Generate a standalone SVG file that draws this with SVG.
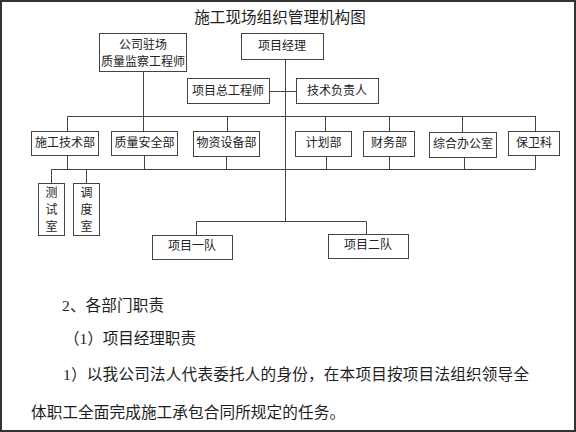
<svg xmlns="http://www.w3.org/2000/svg" width="576" height="432" viewBox="0 0 576 432">
<style>
.box{fill:#fff;stroke:#444;stroke-width:1}
.lbl{font-family:"Noto Sans CJK SC","Noto Sans CJK JP",sans-serif;font-size:12px;fill:#222;text-anchor:middle;dominant-baseline:central}
.con{stroke:#444;stroke-width:1;fill:none}
.body{font-family:"Liberation Serif","Noto Sans CJK SC",serif;font-size:15.6px;fill:#1e1e1e;dominant-baseline:central}
</style>
<rect x="0" y="0" width="576" height="432" fill="#fff"/>
<rect x="1" y="1" width="574" height="430" fill="none" stroke="#333" stroke-width="2"/>
<text class="body" x="280" y="17" text-anchor="middle" fill="#333">施工现场组织管理机构图</text>

<g id="connectors">
<path class="con" d="M143.5,71 V116.5 M285.5,59 V221.5 M269,91.5 H296 M67.5,116.5 H536"/>
<path class="con" d="M67.5,116.5 V131 M143.5,116.5 V131 M227.5,116.5 V131.5 M325.5,116.5 V131 M389.5,116.5 V131 M462.5,116.5 V132 M535.5,116.5 V131"/>
<path class="con" d="M67.5,155 V169.5 M144.5,155 V169.5 M226.5,156 V169.5 M326.5,156 V169.5 M389.5,156 V169.5 M464.5,157 V169.5 M535.5,155 V169.5 M51.5,169.5 H535.5"/>
<path class="con" d="M51.5,169.5 V183 M86.5,169.5 V183"/>
<path class="con" d="M196.5,221.5 H366.5 M196.5,221.5 V235 M366.5,221.5 V234"/>
</g>

<g id="node-jiancha">
<rect class="box" x="99.5" y="33.5" width="87" height="38"/>
<text class="lbl" x="143" y="43">公司驻场</text>
<text class="lbl" x="143" y="60">质量监察工程师</text>
</g>
<g id="node-xmjl">
<rect class="box" x="241.5" y="33.5" width="82" height="26"/>
<text class="lbl" x="282" y="44">项目经理</text>
</g>
<g id="node-zgcs">
<rect class="box" x="187.5" y="78.5" width="82" height="25"/>
<text class="lbl" x="228" y="89">项目总工程师</text>
</g>
<g id="node-jsfzr">
<rect class="box" x="296.5" y="78.5" width="82" height="25"/>
<text class="lbl" x="337" y="89">技术负责人</text>
</g>
<g id="node-sgjsb">
<rect class="box" x="31.5" y="131.5" width="67" height="24"/>
<text class="lbl" x="65" y="141">施工技术部</text>
</g>
<g id="node-zlaqb">
<rect class="box" x="111.5" y="131.5" width="66" height="24"/>
<text class="lbl" x="144.5" y="141">质量安全部</text>
</g>
<g id="node-wzsbb">
<rect class="box" x="193.5" y="131.5" width="66" height="25"/>
<text class="lbl" x="226.5" y="141">物资设备部</text>
</g>
<g id="node-jhb">
<rect class="box" x="295.5" y="131.5" width="56" height="25"/>
<text class="lbl" x="323.5" y="141">计划部</text>
</g>
<g id="node-cwb">
<rect class="box" x="363.5" y="131.5" width="51" height="25"/>
<text class="lbl" x="389" y="141">财务部</text>
</g>
<g id="node-zhbgs">
<rect class="box" x="429.5" y="132.5" width="67" height="25"/>
<text class="lbl" x="463" y="142">综合办公室</text>
</g>
<g id="node-bwk">
<rect class="box" x="508.5" y="131.5" width="51" height="24"/>
<text class="lbl" x="534" y="141">保卫科</text>
</g>
<g id="node-css">
<rect class="box" x="38.5" y="183.5" width="26" height="52"/>
<text class="lbl" x="51.5" y="191">测</text>
<text class="lbl" x="51.5" y="208">试</text>
<text class="lbl" x="51.5" y="225">室</text>
</g>
<g id="node-dds">
<rect class="box" x="73.5" y="183.5" width="26" height="52"/>
<text class="lbl" x="86.5" y="191">调</text>
<text class="lbl" x="86.5" y="208">度</text>
<text class="lbl" x="86.5" y="225">室</text>
</g>
<g id="node-xmyd">
<rect class="box" x="152.5" y="235.5" width="80" height="24"/>
<text class="lbl" x="192" y="244">项目一队</text>
</g>
<g id="node-xmed">
<rect class="box" x="328.5" y="234.5" width="80" height="24"/>
<text class="lbl" x="368" y="243">项目二队</text>
</g>

<text class="body" x="62" y="305" textLength="102" lengthAdjust="spacing">2、各部门职责</text>
<text class="body" x="64" y="338" textLength="132" lengthAdjust="spacing">（1）项目经理职责</text>
<text class="body" x="63" y="374" textLength="466" lengthAdjust="spacing">1）以我公司法人代表委托人的身份，在本项目按项目法组织领导全</text>
<text class="body" x="31" y="412" textLength="314" lengthAdjust="spacing">体职工全面完成施工承包合同所规定的任务。</text>
</svg>
